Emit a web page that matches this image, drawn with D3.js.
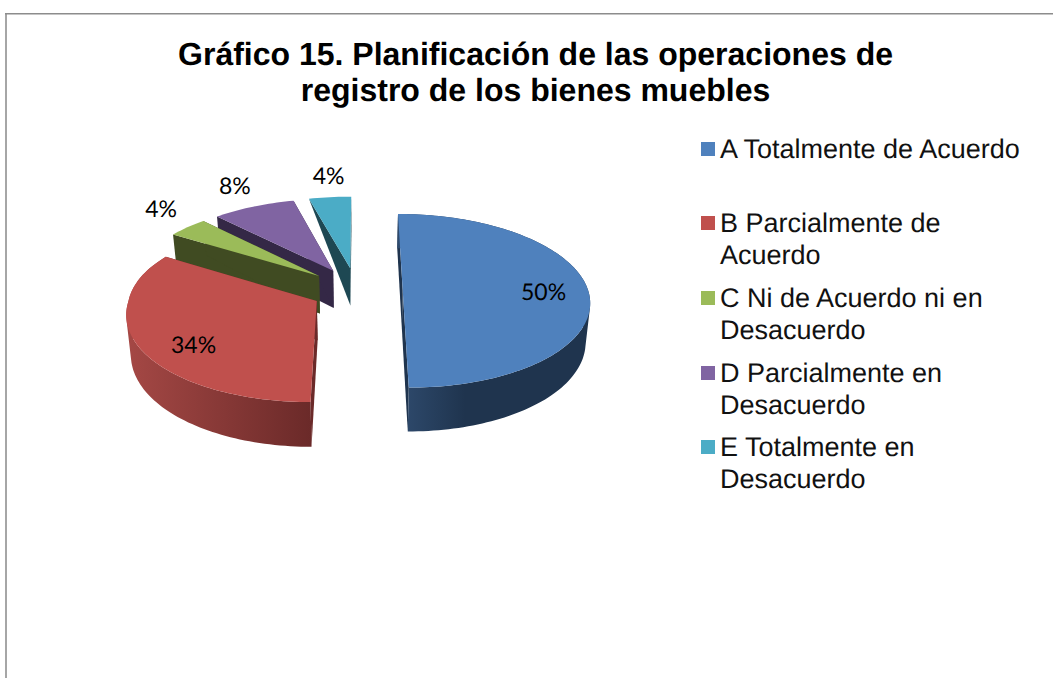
<!DOCTYPE html>
<html lang="es">
<head>
  <meta charset="UTF-8">
  <script src="https://d3js.org/d3.v7.min.js"></script>
  <style>
    body { margin: 0; padding: 0; background: #fff; overflow: hidden; }
    svg { display: block; text-rendering: geometricPrecision; }
    .title { font-family: "Liberation Sans", Arial, sans-serif; font-weight: bold; font-size: 32px; fill: #000; }
    .legend { font-family: "Liberation Sans", Arial, sans-serif; font-size: 27px; fill: #111; }
    .pct { font-family: Lato, "Open Sans", sans-serif; font-size: 23px; fill: #000; }
  </style>
</head>
<body>
  <script>
    // chart data
    const categories = ['A Totalmente de Acuerdo', 'B Parcialmente de Acuerdo', 'C Ni de Acuerdo ni en Desacuerdo', 'D Parcialmente en Desacuerdo', 'E Totalmente en Desacuerdo'];
    const values = [50, 34, 4, 8, 4];
    const legendLines = [['A Totalmente de Acuerdo'], ['B Parcialmente de', 'Acuerdo'], ['C Ni de Acuerdo ni en', 'Desacuerdo'], ['D Parcialmente en', 'Desacuerdo'], ['E Totalmente en', 'Desacuerdo']];
    const titleLines = ['Gráfico 15. Planificación de las operaciones de', 'registro de los bienes muebles'];

    // slice colours: top, wall, wall gradient start (left side)
    const topColors = ['#4f81bd', '#c0504d', '#9bbb59', '#8064a2', '#4bacc6'];
    const wallColors = ['#1f344e', '#6b2a29', '#404b22', '#342846', '#1e4853'];
    const wallLight = ['#2f4b6e', '#a54845', '#404b22', '#342846', '#1e4853'];

    const width = 1053, height = 678;

    // perspective set up, fitted by eye to the reference
    const vanishX = 360, baseY = 300, camH = 700, persp = 0.1257;
    const radius = 188, depth = 39, explode = 0.265, pieX = -4, pieY = 0.115;
    const lowShrink = 0.02; // bottom face sits further from the camera
    const sliceShiftX = [-2.5, 4.5, 0, 0, 0];
    const farWiden = [0, 0.06, 0.06, 0.06, 0.06];

    const svg = d3.select('body').append('svg').attr('width', width).attr('height', height);
    const defs = svg.append('defs');

    // frame, only top and left are in the picture
    svg.append('rect').attr('x', 5).attr('y', 13).attr('width', 2).attr('height', height - 13).attr('fill', '#a6a6a6');
    svg.append('rect').attr('x', 5).attr('y', 13).attr('width', width - 5).attr('height', 1.5).attr('fill', '#8c8c8c');

    svg.selectAll('.title').data(titleLines).enter().append('text')
      .attr('class', 'title')
      .attr('x', 535.5)
      .attr('y', (d, i) => 65 + i * 36)
      .attr('text-anchor', 'middle')
      .text(d => d);

    const slices = d3.pie().sort(null).startAngle(0).endAngle(2 * Math.PI)(values);

    // centre of an exploded slice on the ground plane
    function sliceCentre(s) {
      const mid = (s.startAngle + s.endAngle) / 2;
      return [pieX + sliceShiftX[s.index] + explode * radius * Math.sin(mid), pieY + explode * Math.cos(mid)];
    }

    // world point -> screen. r is in pie radii, drop is how far below the top face
    function project(s, angle, r, drop) {
      const c = sliceCentre(s);
      const widen = 1 + farWiden[s.index] * Math.max(0, Math.cos(angle));
      const wx = c[0] + radius * widen * r * Math.sin(angle);
      const wy = c[1] + r * Math.cos(angle);
      const p = 1 / (1 + persp * wy);
      const d = drop || 0;
      return [vanishX + wx * p * (1 - lowShrink * d / depth), baseY + camH * (p - 1) + d * p];
    }

    const line = d3.line();

    function arcPoints(s, drop) {
      const n = Math.max(8, Math.round((s.endAngle - s.startAngle) * 40));
      return d3.range(n + 1).map(i => project(s, s.startAngle + (s.endAngle - s.startAngle) * i / n, 1, drop));
    }

    // outer wall as one path of same-wound quads so the silhouette stays filled
    function wallPath(top, low) {
      return d3.range(top.length - 1).map(k => {
        const quad = [top[k], top[k + 1], low[k + 1], low[k]];
        if (d3.polygonArea(quad) < 0) quad.reverse();
        return line(quad) + 'Z';
      }).join('');
    }

    // back slices first, blue goes on top
    const order = [4, 3, 2, 1, 0];
    order.forEach(i => {
      const s = slices[i];
      const g = svg.append('g');
      const top = arcPoints(s, 0);
      const low = arcPoints(s, depth);
      const apexTop = project(s, 0, 0, 0);
      const apexLow = project(s, 0, 0, depth);

      // cut faces, the E slice face runs out to a point at its far corner
      [top[0], top[top.length - 1]].forEach((edge, k) => {
        const edgeLow = k === 0 ? (i === 4 ? top[0] : low[0]) : low[low.length - 1];
        g.append('path')
          .attr('d', line([apexTop, edge, edgeLow, apexLow]) + 'Z')
          .attr('fill', wallColors[i]);
      });

      // outer wall with a left to right gradient, only A and B show it
      if (i < 2) {
        const gradId = 'wall' + i;
        const xs = top.map(d => d[0]);
        const grad = defs.append('linearGradient').attr('id', gradId)
          .attr('gradientUnits', 'userSpaceOnUse')
          .attr('x1', d3.min(xs)).attr('x2', d3.max(xs)).attr('y1', 0).attr('y2', 0);
        grad.append('stop').attr('offset', 0).attr('stop-color', wallLight[i]);
        if (i === 0) grad.append('stop').attr('offset', 0.35).attr('stop-color', wallColors[i]);
        grad.append('stop').attr('offset', 1).attr('stop-color', wallColors[i]);
        g.append('path')
          .attr('d', wallPath(top, low))
          .attr('fill', 'url(#' + gradId + ')');
      }

      // top face
      g.append('path')
        .attr('d', line([apexTop].concat(top)) + 'Z')
        .attr('fill', topColors[i]);
    });

    // percent labels: radius along the slice middle plus a small nudge
    const labelRadius = [0.76, 0.66, 1.2, 1.2, 1.25];
    const labelNudge = [[0, 1], [-8, 14], [-2, -10], [-4, -10], [3, -7]];
    svg.selectAll('.pct').data(slices).enter().append('text')
      .attr('class', 'pct')
      .attr('text-anchor', 'middle')
      .attr('dominant-baseline', 'central')
      .attr('transform', (d, i) => {
        const pt = project(d, (d.startAngle + d.endAngle) / 2, labelRadius[i], 0);
        return 'translate(' + (pt[0] + labelNudge[i][0]) + ',' + (pt[1] + labelNudge[i][1]) + ')';
      })
      .text(d => d.value + '%');

    // legend
    const legendX = 701, legendTextX = 720, lineH = 31.3;
    const legendY = d3.scaleOrdinal().domain(categories).range([149, 223, 298, 373, 447]);
    categories.forEach((c, i) => {
      const y = legendY(c);
      svg.append('rect').attr('x', legendX).attr('y', y - 7).attr('width', 14).attr('height', 14).attr('fill', topColors[i]);
      legendLines[i].forEach((t, k) => {
        svg.append('text').attr('class', 'legend')
          .attr('x', legendTextX).attr('y', y + 9.3 + k * lineH)
          .text(t);
      });
    });
  </script>
</body>
</html>
